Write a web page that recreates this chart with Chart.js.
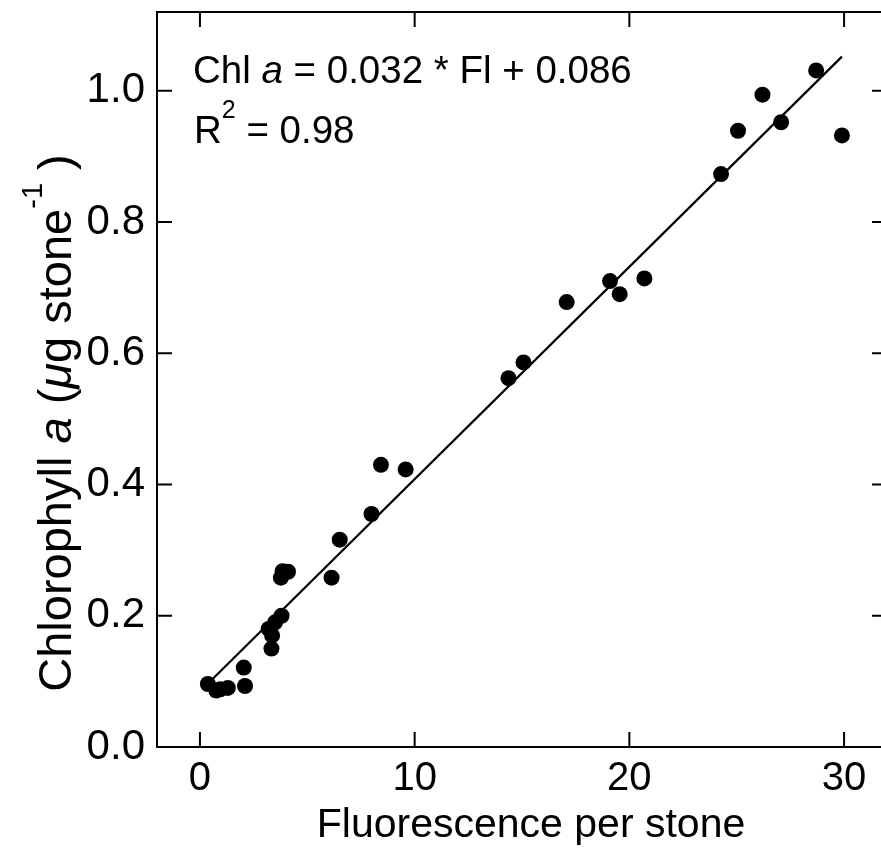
<!DOCTYPE html>
<html>
<head>
<meta charset="utf-8">
<script src="https://cdn.jsdelivr.net/npm/chart.js@4.4.0/dist/chart.umd.min.js"></script>
<style>
html, body { margin: 0; padding: 0; background: #fff; overflow: hidden; }
#chartContainer { display: block; }
</style>
</head>
<body>
<canvas id="chartContainer" width="881" height="848"></canvas>
<script>
// measured points: fluorescence per stone vs chlorophyll a (ug per stone)
const fluorescence = [0.37, 0.76, 0.95, 1.3, 2.1, 2.04, 3.33, 3.36, 3.2, 3.5, 3.8, 3.77, 3.85, 4.1,
    6.13, 6.51, 7.99, 8.43, 9.58, 14.37, 15.07, 17.08, 19.1, 19.55, 20.7, 24.27, 25.06, 26.2, 27.07, 28.7, 29.9];
const chlorophyll = [0.096, 0.086, 0.088, 0.09, 0.093, 0.121, 0.15, 0.17, 0.18, 0.19, 0.2, 0.258, 0.268, 0.267,
    0.258, 0.316, 0.355, 0.43, 0.423, 0.562, 0.586, 0.678, 0.71, 0.69, 0.714, 0.873, 0.939, 0.994, 0.952, 1.031, 0.932];

// regression line end points
const fitX = [0.6, 29.9];
const fitY = [0.104, 1.052];

const xTicks = [0, 10, 20, 30];
const yTicks = [0, 0.2, 0.4, 0.6, 0.8, 1.0];
const yTickLabels = ['0.0', '0.2', '0.4', '0.6', '0.8', '1.0'];

// the original frame runs from -2 to 32, but its right edge is cut off by the picture
const xFrameMax = 32;
const xVisibleMax = 31.72;

const FONT = '"Liberation Sans", Arial, Helvetica, sans-serif';

/**
 * Draws a run of text pieces with their own style, starting at x on baseline y.
 */
function drawRich(ctx, parts, x, y) {
    let cx = x;
    parts.forEach(p => {
        ctx.font = p.font;
        ctx.fillText(p.text, cx, y + (p.dy || 0));
        cx += ctx.measureText(p.text).width;
    });
    return cx - x;
}

function richWidth(ctx, parts) {
    let w = 0;
    parts.forEach(p => {
        ctx.font = p.font;
        w += ctx.measureText(p.text).width;
    });
    return w;
}

const normal = '38.5px ' + FONT;
const italic = 'italic 38.5px ' + FONT;
const small = '25px ' + FONT;
const titleFont = '47px ' + FONT;
const titleItalic = 'italic 47px ' + FONT;
const titleSmall = '29px ' + FONT;

const yTitle = [
    { text: 'Chlorophyll ', font: titleFont },
    { text: 'a', font: titleItalic },
    { text: ' (', font: titleFont },
    { text: 'μ', font: titleItalic },
    { text: 'g stone', font: titleFont },
    { text: '-1', font: titleSmall, dy: -29 },
    { text: ' )', font: titleFont }
];
const xTitle = [{ text: 'Fluorescence per stone', font: '41px ' + FONT }];
const equation = [
    { text: 'Chl ', font: normal },
    { text: 'a', font: italic },
    { text: ' = 0.032 * Fl + 0.086', font: normal }
];
const rSquared = [
    { text: 'R', font: normal },
    { text: '2', font: small, dy: -25 },
    { text: ' = 0.98', font: normal }
];

const framePlugin = {
    id: 'frame',
    afterDraw(chart) {
        const { ctx, chartArea: a, scales: { x, y } } = chart;
        const right = x.getPixelForValue(xFrameMax);
        ctx.save();
        ctx.strokeStyle = '#000';
        ctx.lineWidth = 2;
        ctx.strokeRect(a.left, a.top, right - a.left, a.bottom - a.top);
        ctx.beginPath();
        xTicks.forEach(v => {
            const px = x.getPixelForValue(v);
            ctx.moveTo(px, a.bottom); ctx.lineTo(px, a.bottom - 15);
            ctx.moveTo(px, a.top); ctx.lineTo(px, a.top + 15);
        });
        yTicks.forEach(v => {
            const py = y.getPixelForValue(v);
            ctx.moveTo(a.left, py); ctx.lineTo(a.left + 15, py);
            ctx.moveTo(right, py); ctx.lineTo(right - 15, py);
        });
        ctx.stroke();

        ctx.fillStyle = '#000';
        ctx.textBaseline = 'alphabetic';
        ctx.textAlign = 'left';
        drawRich(ctx, equation, a.left + 36, a.top + 71);
        drawRich(ctx, rSquared, a.left + 37, a.top + 131);

        // x axis title, a little right of the frame centre as in the original
        const xw = richWidth(ctx, xTitle);
        drawRich(ctx, xTitle, (a.left + right) / 2 + 9 - xw / 2, 837);

        // rotated y axis title
        const w = richWidth(ctx, yTitle);
        ctx.translate(71, 423);
        ctx.rotate(-Math.PI / 2);
        drawRich(ctx, yTitle, -w / 2, 0);
        ctx.restore();
    }
};

new Chart(document.getElementById('chartContainer'), {
    type: 'scatter',
    data: {
        datasets: [{
            label: 'Samples',
            data: fluorescence.map((v, i) => ({ x: v, y: chlorophyll[i] })),
            backgroundColor: '#000',
            borderWidth: 0,
            pointRadius: 8,
            pointHoverRadius: 8
        }, {
            label: 'Fit',
            type: 'line',
            data: fitX.map((v, i) => ({ x: v, y: fitY[i] })),
            borderColor: '#000',
            borderWidth: 2.2,
            pointRadius: 0,
            fill: false,
            tension: 0
        }]
    },
    options: {
        responsive: false,
        animation: false,
        devicePixelRatio: 1,
        layout: { autoPadding: false, padding: { top: 12, right: 0, left: 0, bottom: 0 } },
        plugins: { legend: { display: false }, tooltip: { enabled: false } },
        scales: {
            x: {
                type: 'linear',
                min: -2,
                max: xVisibleMax,
                grid: { display: false, drawTicks: false },
                border: { display: false },
                afterBuildTicks: s => { s.ticks = xTicks.map(v => ({ value: v })); },
                afterFit: s => {
                    s.height = 101;
                    s.paddingLeft = 0; s.paddingRight = 0;
                },
                ticks: {
                    color: '#000',
                    padding: 8,
                    font: { family: FONT, size: 40 },
                    maxRotation: 0,
                    callback: v => String(v)
                }
            },
            y: {
                type: 'linear',
                min: 0,
                max: 1.12,
                grid: { display: false, drawTicks: false },
                border: { display: false },
                afterBuildTicks: s => { s.ticks = yTicks.map(v => ({ value: v })); },
                afterFit: s => {
                    s.width = 157;
                    s.paddingTop = 0; s.paddingBottom = 0;
                },
                ticks: {
                    color: '#000',
                    padding: 12,
                    font: { family: FONT, size: 42 },
                    callback: (v, i) => yTickLabels[yTicks.indexOf(v)]
                }
            }
        }
    },
    plugins: [framePlugin]
});
</script>
</body>
</html>
